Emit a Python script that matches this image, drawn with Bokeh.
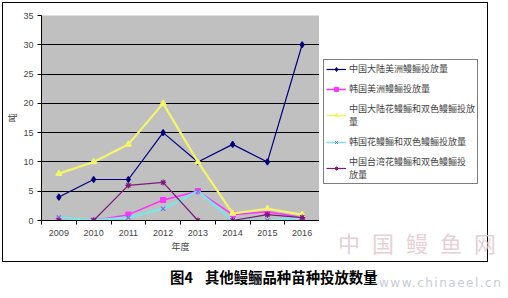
from bokeh.plotting import figure
from bokeh.models import Legend, LegendItem, FixedTicker, ColumnDataSource, Div, Spacer
from bokeh.layouts import column, row
from bokeh.embed import file_html
from bokeh.resources import INLINE

years = [2009, 2010, 2011, 2012, 2013, 2014, 2015, 2016]
s1 = [4, 7, 7, 15, 10, 13, 10, 30]          # 中国大陆美洲鳗鲡投放量
s2 = [0, 0, 1, 3.5, 5, 1, 1.5, 0.5]         # 韩国美洲鳗鲡投放量
s3 = [8, 10, 13, 20, 10, 1.2, 2, 1]         # 中国大陆花鳗鲡和双色鳗鲡投放量
s4 = [0.5, 0, 0.5, 2, 5, 0, 0, 0.5]         # 韩国花鳗鲡和双色鳗鲡投放量
s5 = [0, 0, 6, 6.5, 0, 0, 1, 0.5]           # 中国台湾花鳗鲡和双色鳗鲡投放量
names = ["中国大陆美洲鳗鲡投放量", "韩国美洲鳗鲡投放量",
         "中国大陆花鳗鲡和双色鳗鲡投放\n量", "韩国花鳗鲡和双色鳗鲡投放量",
         "中国台湾花鳗鲡和双色鳗鲡投\n放量"]
yticks = [0, 5, 10, 15, 20, 25, 30, 35]
caption_num = "图4"
caption_txt = "其他鳗鲡品种苗种投放数量"
watermark = "中国鳗鱼网"
site = "www.chinaeel.cn"

CJK = "Noto Sans CJK SC"
p = figure(width=316, height=258, output_backend="svg", toolbar_location=None,
           x_range=(2008.5, 2016.5), y_range=(0, 35),
           min_border_left=38, min_border_right=0, min_border_top=12,
           min_border_bottom=41, margin=0)
p.background_fill_color = "#c0c0c0"
p.border_fill_color = "white"
p.outline_line_color = None

p.xgrid.grid_line_color = None
p.ygrid.grid_line_color = "black"
p.ygrid.grid_line_width = 1
p.ygrid.ticker = FixedTicker(ticks=yticks)

p.xaxis.ticker = FixedTicker(ticks=years, minor_ticks=[y + 0.5 for y in [2008] + years])
p.xaxis.major_tick_line_color = None
p.xaxis.minor_tick_out = 4
p.xaxis.minor_tick_in = 0
p.xaxis.minor_tick_line_color = "black"
p.xaxis.axis_line_color = "black"
p.xaxis.major_label_text_font_size = "9px"
p.xaxis.major_label_text_font = "Liberation Sans"
p.xaxis.major_label_standoff = 3
p.xaxis.axis_label = "年度"
p.xaxis.axis_label_text_font = CJK
p.xaxis.axis_label_text_font_size = "9px"
p.xaxis.axis_label_text_font_style = "normal"
p.xaxis.axis_label_standoff = 1

p.yaxis.ticker = FixedTicker(ticks=yticks)
p.yaxis.minor_tick_line_color = None
p.yaxis.major_tick_out = 4
p.yaxis.major_tick_in = 0
p.yaxis.axis_line_color = "black"
p.yaxis.major_label_text_font_size = "9px"
p.yaxis.major_label_text_font = "Liberation Sans"
p.yaxis.major_label_standoff = 4
p.yaxis.axis_label = "吨"
p.yaxis.axis_label_text_font = CJK
p.yaxis.axis_label_text_font_size = "9px"
p.yaxis.axis_label_text_font_style = "normal"
p.yaxis.axis_label_standoff = 1

# legend-only panel
q = figure(width=168, height=205, output_backend="svg", toolbar_location=None,
           x_range=(0, 1), y_range=(0, 1), min_border=0, margin=0)
q.axis.visible = False
q.grid.visible = False
q.outline_line_color = None
q.background_fill_color = "white"
q.border_fill_color = "white"

colors = ["#000080", "#ff33ff", "#f5f56a", "#80e4e4", "#7a1a7a"]
widths = [1.2, 1.5, 2.2, 2.5, 1.2]
markers = ["diamond", "square", "triangle", "x", "asterisk"]
series = [s1, s2, s3, s4, s5]
items = []
for i, (vals, c, w, mk) in enumerate(zip(series, colors, widths, markers)):
    src = ColumnDataSource(dict(x=years, y=vals))
    p.line("x", "y", source=src, line_color=c, line_width=w)
    mc = "#7a6ad8" if i == 3 else c
    p.scatter("x", "y", source=src, marker=mk, size=6 if i != 1 else 5,
              line_color=mc, fill_color=mc, line_width=1.2)
    off = ColumnDataSource(dict(x=[5, 6], y=[5, 6]))   # outside q's ranges: legend glyphs only
    rl = q.line("x", "y", source=off, line_color=c, line_width=min(w, 1.5))
    rm = q.scatter("x", "y", source=off, marker=mk, size=5, line_color=mc,
                   fill_color=mc, line_width=1)
    items.append(LegendItem(label=names[i], renderers=[rl, rm]))

legend = Legend(items=items, location="top_left", border_line_color="black",
                border_line_width=1, background_fill_color="white",
                background_fill_alpha=1, label_text_font=CJK,
                label_text_font_size="9px", label_text_line_height=0.72,
                glyph_width=20, glyph_height=10, label_height=11,
                spacing=7, padding=2, margin=4, label_standoff=3)
q.add_layout(legend, "center")

right = column(Spacer(width=168, height=52), q, Spacer(width=168, height=1), spacing=0, margin=0)
chart = row(p, right, spacing=0, margin=(3, 0, 0, 3),
            styles={"outline": "1.5px solid black"})

html = (
    '<div style="position:relative;width:508px;height:37px;">'
    '<div style="position:absolute;left:338px;top:-34px;font-family:\'Noto Sans CJK SC\';'
    'font-size:22px;color:#e2c9d0;opacity:0.85;white-space:nowrap;">'
    '<span style="letter-spacing:12px;">' + watermark[:-1] + '</span>' + watermark[-1] + '</div>'
    '<div style="position:absolute;left:379px;top:14px;font-family:\'DejaVu Sans\';'
    'font-size:12px;color:#c3ccd8;white-space:nowrap;">'
    '<span style="letter-spacing:1.5px;">' + site[:-1] + '</span>' + site[-1] + '</div>'
    '<div style="position:absolute;left:170px;top:7px;'
    'font-family:\'Noto Sans CJK SC\';font-size:14.4px;font-weight:bold;color:black;'
    'white-space:nowrap;line-height:18px;">' + caption_num +
    '<span style="display:inline-block;width:12px;"></span>' + caption_txt + '</div>'
    '</div>'
)
d = Div(text=html, width=508, height=37, margin=0, styles={"overflow": "visible"})

layout = column(chart, d, spacing=0, margin=0)
open("out.html", "w").write(file_html(layout, INLINE))
